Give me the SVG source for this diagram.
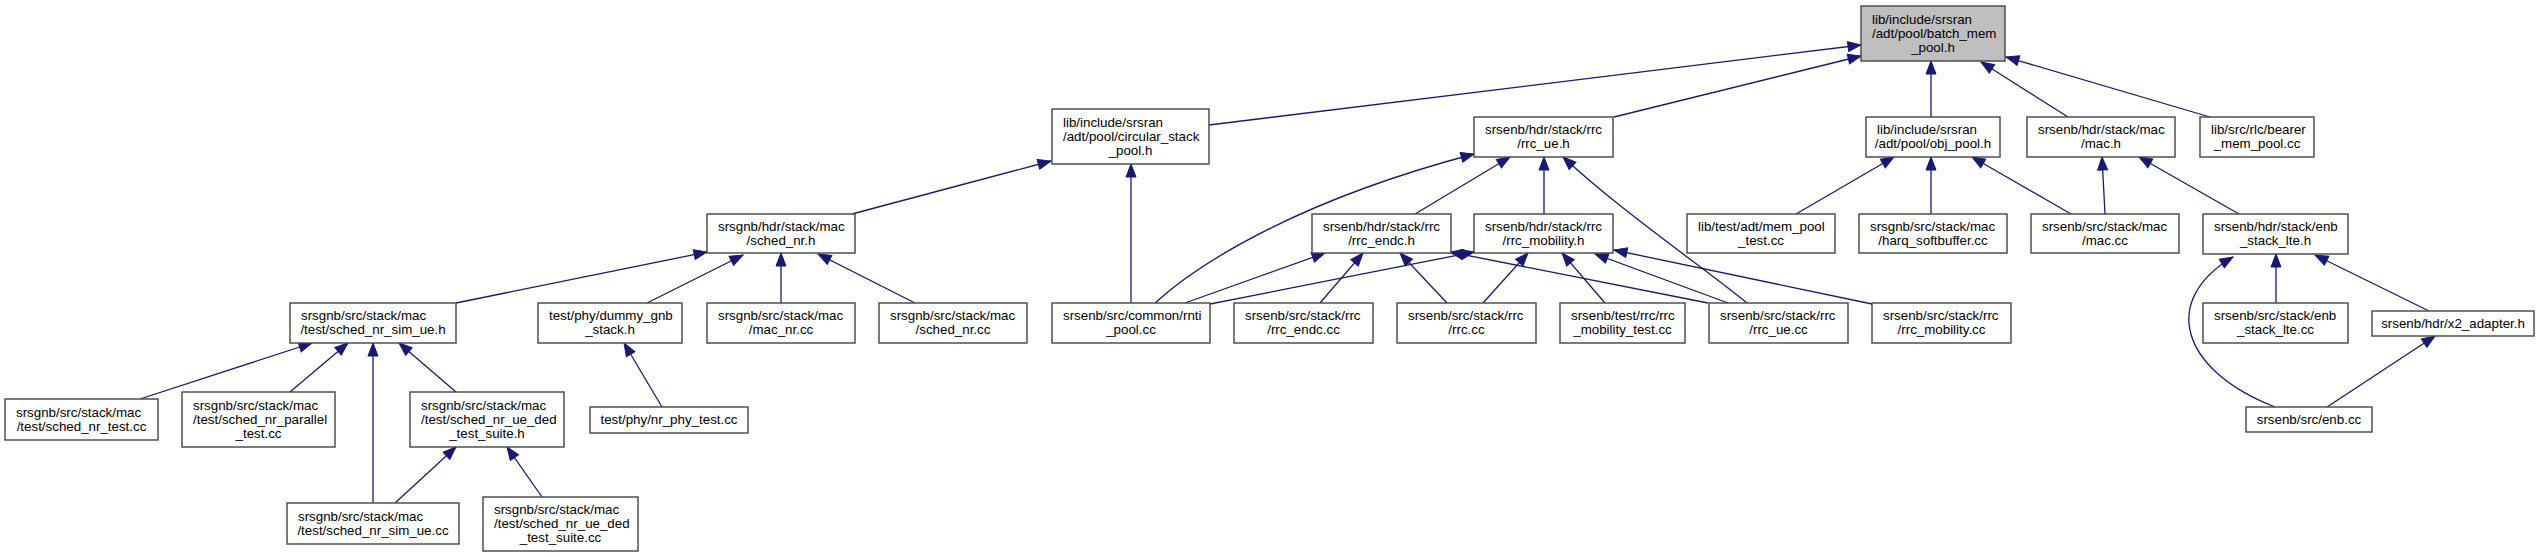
<svg xmlns="http://www.w3.org/2000/svg" width="2540" height="557" viewBox="0 0 2540 557">
<style>
.n rect{fill:#fff;stroke:#444;stroke-width:1.4}
#root rect{fill:#bfbfbf}
text{font-family:"Liberation Sans",Arial,Helvetica,sans-serif;font-size:13.33px;fill:#000}
.m{text-anchor:middle}
#edges path{fill:none;stroke:#191970;stroke-width:1.3;marker-end:url(#ah)}
</style>
<defs>
<marker id="ah" markerUnits="userSpaceOnUse" markerWidth="14" markerHeight="11" refX="13" refY="5" orient="auto" overflow="visible">
<path d="M0,0 L13,5 L0,10 z" fill="#191970" stroke="#191970" stroke-width="1"/>
</marker>
</defs>
<rect width="2540" height="557" fill="#fff"/>
<g id="edges">
<path d="M1209,125 L1861,45"/>
<path d="M1614,117 L1861,56"/>
<path d="M1931,117 L1931,61"/>
<path d="M2068,117 L1981,62"/>
<path d="M2210,117 L2006,57"/>
<path d="M852,214 L1051,161"/>
<path d="M1131,303 L1131,164"/>
<path d="M1155,303 C1200,262 1300,200 1474,154"/>
<path d="M1415,214 L1510,157"/>
<path d="M1544,214 L1544,157"/>
<path d="M1747,303 C1700,265 1620,210 1563,157"/>
<path d="M1796,214 L1894,157"/>
<path d="M1931,214 L1931,157"/>
<path d="M2071,214 L1972,157"/>
<path d="M2105,214 L2102,157"/>
<path d="M2239,214 L2139,157"/>
<path d="M456,303 L707,252"/>
<path d="M647,303 L743,255"/>
<path d="M781,303 L781,253"/>
<path d="M915,303 L818,254"/>
<path d="M1185,303 L1325,253"/>
<path d="M1320,303 L1363,253"/>
<path d="M1447,303 L1400,253"/>
<path d="M1708,303 L1450,252"/>
<path d="M1210,304 L1474,252"/>
<path d="M1483,303 L1528,253"/>
<path d="M1605,303 L1562,253"/>
<path d="M1728,303 L1595,254"/>
<path d="M1872,304 L1614,250"/>
<path d="M2275,407 C2180,370 2160,300 2233,257"/>
<path d="M2276,303 L2276,254"/>
<path d="M2429,311 L2315,255"/>
<path d="M2327,407 L2435,336"/>
<path d="M140,399 L312,343"/>
<path d="M290,392 L348,343"/>
<path d="M373,503 L373,343"/>
<path d="M456,392 L399,343"/>
<path d="M395,503 L456,447"/>
<path d="M542,497 L507,447"/>
<path d="M662,407 L624,343"/>
</g>
<g id="root" class="n"><rect x="1861" y="6" width="144" height="55"/><text x="1872" y="23.5">lib/include/srsran</text><text x="1872" y="37.5">/adt/pool/batch_mem</text><text class="m" x="1933" y="51.5">_pool.h</text></g>
<g id="circular_stack_pool" class="n"><rect x="1052" y="109" width="157" height="55"/><text x="1063" y="126.5">lib/include/srsran</text><text x="1063" y="140.5">/adt/pool/circular_stack</text><text class="m" x="1130.5" y="154.5">_pool.h</text></g>
<g id="rrc_ue_h" class="n"><rect x="1474" y="117" width="139" height="40"/><text x="1485" y="134">srsenb/hdr/stack/rrc</text><text class="m" x="1543.5" y="148">/rrc_ue.h</text></g>
<g id="obj_pool_h" class="n"><rect x="1866" y="117" width="134" height="40"/><text x="1877" y="134">lib/include/srsran</text><text class="m" x="1933" y="148">/adt/pool/obj_pool.h</text></g>
<g id="mac_h" class="n"><rect x="2027" y="117" width="148" height="40"/><text x="2038" y="134">srsenb/hdr/stack/mac</text><text class="m" x="2101" y="148">/mac.h</text></g>
<g id="bearer_mem_pool" class="n"><rect x="2200" y="117" width="114" height="40"/><text x="2211" y="134">lib/src/rlc/bearer</text><text class="m" x="2257" y="148">_mem_pool.cc</text></g>
<g id="sched_nr_h" class="n"><rect x="707" y="214" width="148" height="39"/><text x="718" y="230.5">srsgnb/hdr/stack/mac</text><text class="m" x="781" y="244.5">/sched_nr.h</text></g>
<g id="rrc_endc_h" class="n"><rect x="1312" y="214" width="139" height="39"/><text x="1323" y="230.5">srsenb/hdr/stack/rrc</text><text class="m" x="1381.5" y="244.5">/rrc_endc.h</text></g>
<g id="rrc_mobility_h" class="n"><rect x="1474" y="214" width="139" height="39"/><text x="1485" y="230.5">srsenb/hdr/stack/rrc</text><text class="m" x="1543.5" y="244.5">/rrc_mobility.h</text></g>
<g id="mem_pool_test" class="n"><rect x="1687" y="214" width="148" height="39"/><text x="1698" y="230.5">lib/test/adt/mem_pool</text><text class="m" x="1761" y="244.5">_test.cc</text></g>
<g id="harq_softbuffer" class="n"><rect x="1859" y="214" width="148" height="39"/><text x="1870" y="230.5">srsgnb/src/stack/mac</text><text class="m" x="1933" y="244.5">/harq_softbuffer.cc</text></g>
<g id="mac_cc" class="n"><rect x="2031" y="214" width="148" height="39"/><text x="2042" y="230.5">srsenb/src/stack/mac</text><text class="m" x="2105" y="244.5">/mac.cc</text></g>
<g id="enb_stack_lte_h" class="n"><rect x="2203" y="214" width="145" height="40"/><text x="2214" y="230.5">srsenb/hdr/stack/enb</text><text class="m" x="2275.5" y="244.5">_stack_lte.h</text></g>
<g id="sched_nr_sim_ue_h" class="n"><rect x="290" y="303" width="166" height="40"/><text x="301" y="320">srsgnb/src/stack/mac</text><text class="m" x="373" y="334">/test/sched_nr_sim_ue.h</text></g>
<g id="dummy_gnb_stack" class="n"><rect x="538" y="303" width="144" height="40"/><text x="549" y="320">test/phy/dummy_gnb</text><text class="m" x="610" y="334">_stack.h</text></g>
<g id="mac_nr_cc" class="n"><rect x="707" y="303" width="148" height="40"/><text x="718" y="320">srsgnb/src/stack/mac</text><text class="m" x="781" y="334">/mac_nr.cc</text></g>
<g id="sched_nr_cc" class="n"><rect x="879" y="303" width="148" height="40"/><text x="890" y="320">srsgnb/src/stack/mac</text><text class="m" x="953" y="334">/sched_nr.cc</text></g>
<g id="rnti_pool" class="n"><rect x="1052" y="303" width="158" height="40"/><text x="1063" y="320">srsenb/src/common/rnti</text><text class="m" x="1131" y="334">_pool.cc</text></g>
<g id="rrc_endc_cc" class="n"><rect x="1234" y="303" width="139" height="40"/><text x="1245" y="320">srsenb/src/stack/rrc</text><text class="m" x="1303.5" y="334">/rrc_endc.cc</text></g>
<g id="rrc_cc" class="n"><rect x="1397" y="303" width="139" height="40"/><text x="1408" y="320">srsenb/src/stack/rrc</text><text class="m" x="1466.5" y="334">/rrc.cc</text></g>
<g id="rrc_mobility_test" class="n"><rect x="1560" y="303" width="125" height="40"/><text x="1571" y="320">srsenb/test/rrc/rrc</text><text class="m" x="1622.5" y="334">_mobility_test.cc</text></g>
<g id="rrc_ue_cc" class="n"><rect x="1709" y="303" width="139" height="40"/><text x="1720" y="320">srsenb/src/stack/rrc</text><text class="m" x="1778.5" y="334">/rrc_ue.cc</text></g>
<g id="rrc_mobility_cc" class="n"><rect x="1872" y="303" width="139" height="40"/><text x="1883" y="320">srsenb/src/stack/rrc</text><text class="m" x="1941.5" y="334">/rrc_mobility.cc</text></g>
<g id="enb_stack_lte_cc" class="n"><rect x="2203" y="303" width="145" height="40"/><text x="2214" y="320">srsenb/src/stack/enb</text><text class="m" x="2275.5" y="334">_stack_lte.cc</text></g>
<g id="x2_adapter" class="n"><rect x="2372" y="311" width="162" height="25"/><text class="m" x="2453" y="327.5">srsenb/hdr/x2_adapter.h</text></g>
<g id="sched_nr_test" class="n"><rect x="5" y="399" width="153" height="41"/><text x="16" y="416.5">srsgnb/src/stack/mac</text><text class="m" x="81.5" y="430.5">/test/sched_nr_test.cc</text></g>
<g id="sched_nr_parallel_test" class="n"><rect x="182" y="392" width="153" height="55"/><text x="193" y="409.5">srsgnb/src/stack/mac</text><text x="193" y="423.5">/test/sched_nr_parallel</text><text class="m" x="258.5" y="437.5">_test.cc</text></g>
<g id="sched_nr_ue_ded_test_suite_h" class="n"><rect x="410" y="392" width="154" height="55"/><text x="421" y="409.5">srsgnb/src/stack/mac</text><text x="421" y="423.5">/test/sched_nr_ue_ded</text><text class="m" x="487" y="437.5">_test_suite.h</text></g>
<g id="nr_phy_test" class="n"><rect x="590" y="407" width="158" height="26"/><text class="m" x="669" y="424">test/phy/nr_phy_test.cc</text></g>
<g id="enb_cc" class="n"><rect x="2246" y="407" width="126" height="25"/><text class="m" x="2309" y="423.5">srsenb/src/enb.cc</text></g>
<g id="sched_nr_sim_ue_cc" class="n"><rect x="287" y="503" width="172" height="41"/><text x="298" y="520.5">srsgnb/src/stack/mac</text><text class="m" x="373" y="534.5">/test/sched_nr_sim_ue.cc</text></g>
<g id="sched_nr_ue_ded_test_suite_cc" class="n"><rect x="483" y="497" width="155" height="54"/><text x="494" y="514">srsgnb/src/stack/mac</text><text x="494" y="528">/test/sched_nr_ue_ded</text><text class="m" x="560.5" y="542">_test_suite.cc</text></g>
</svg>
